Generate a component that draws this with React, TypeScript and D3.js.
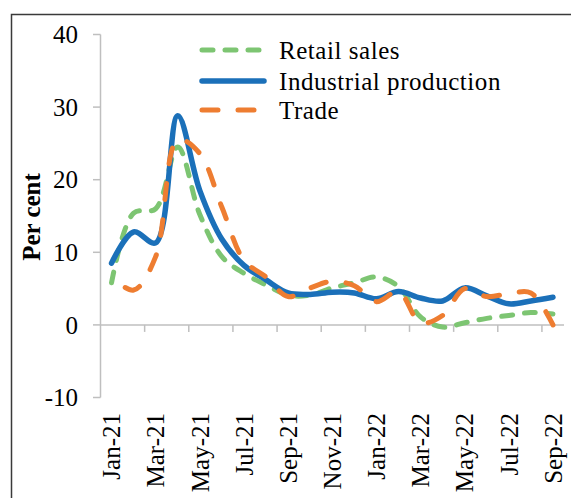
import React, { useRef, useEffect } from 'react';
import * as d3 from 'd3';

// months Jan-21 .. Sep-22
const months = [
  'Jan-21', 'Feb-21', 'Mar-21', 'Apr-21', 'May-21', 'Jun-21', 'Jul-21',
  'Aug-21', 'Sep-21', 'Oct-21', 'Nov-21', 'Dec-21', 'Jan-22', 'Feb-22',
  'Mar-22', 'Apr-22', 'May-22', 'Jun-22', 'Jul-22', 'Aug-22', 'Sep-22',
];

const retailSales = [
  5.8, 15.4, 16.0, 24.5, 15.2, 9.4, 7.1, 5.5, 4.1, 4.1, 5.1, 5.8, 6.6, 5.3,
  1.1, -0.3, 0.3, 0.9, 1.3, 1.7, 1.5,
];
const industrialProduction = [
  8.5, 12.8, 11.3, 28.8, 18.5, 11.8, 8.2, 6.2, 4.4, 4.2, 4.5, 4.4, 3.6, 4.6,
  3.7, 3.3, 5.1, 4.0, 2.9, 3.3, 3.8,
];
const trade = [
  6.6, 4.8, 9.4, 25.5, 23.6, 16.2, 8.9, 6.6, 3.9, 5.1, 6.0, 5.4, 3.2, 4.6,
  0.3, 1.3, 5.0, 3.9, 4.3, 4.4, 0.0,
];

const yTicks = [-10, 0, 10, 20, 30, 40];
const xLabels = ['Jan-21', 'Mar-21', 'May-21', 'Jul-21', 'Sep-21', 'Nov-21', 'Jan-22', 'Mar-22', 'May-22', 'Jul-22', 'Sep-22'];

const seriesNames = ['Retail sales', 'Industrial production', 'Trade'];

const width = 571;
const height = 498;
const font = '"Liberation Serif", "Times New Roman", serif';

const styles = [
  { color: '#7dc572', dash: [11, 12], width: 5 },
  { color: '#1b70b9', dash: null, width: 5.5 },
  { color: '#ee7d31', dash: [16, 20], width: 5 },
];

const App = () => {
  const ref = useRef<SVGSVGElement>(null);

  useEffect(() => {
    const svg = d3.select(ref.current);
    svg.selectAll('*').remove();

    svg.append('rect').attr('width', width).attr('height', height).attr('fill', '#fff');

    // outer frame (only top and left visible)
    svg
      .append('path')
      .attr('d', `M11.5,${height} L11.5,14.5 L${width},14.5`)
      .attr('fill', 'none')
      .attr('stroke', '#3a3a3a')
      .attr('stroke-width', 1.5);

    const x = d3.scaleBand<string>().domain(months).range([100.5, 564]);
    const y = d3.scaleLinear().domain([-10, 40]).range([397.5, 34.5]);
    const cx = (i: number) => (x(months[i]) as number) + x.bandwidth() / 2;

    // y axis
    const yAxis = svg.append('g');
    yAxis
      .append('line')
      .attr('x1', 100.5)
      .attr('x2', 100.5)
      .attr('y1', y(-10))
      .attr('y2', y(40))
      .attr('stroke', '#bfbfbf')
      .attr('stroke-width', 1.5);
    yTicks.forEach((t) => {
      yAxis
        .append('line')
        .attr('x1', 93)
        .attr('x2', 100.5)
        .attr('y1', y(t))
        .attr('y2', y(t))
        .attr('stroke', '#bfbfbf')
        .attr('stroke-width', 1.5);
      yAxis
        .append('text')
        .attr('x', 78)
        .attr('y', y(t))
        .attr('dy', '0.35em')
        .attr('text-anchor', 'end')
        .attr('font-family', font)
        .attr('font-size', 25)
        .attr('fill', '#000')
        .text(t);
    });

    svg
      .append('text')
      .attr('transform', `translate(40, ${217}) rotate(-90)`)
      .attr('text-anchor', 'middle')
      .attr('font-family', font)
      .attr('font-size', 25)
      .attr('font-weight', 'bold')
      .text('Per cent');

    // x axis at zero
    const xAxis = svg.append('g');
    xAxis
      .append('line')
      .attr('x1', 100.5)
      .attr('x2', 564)
      .attr('y1', y(0))
      .attr('y2', y(0))
      .attr('stroke', '#bfbfbf')
      .attr('stroke-width', 1.5);
    months.forEach((m, i) => {
      if (i % 2 === 0 && i > 0) {
        const tx = x(m) as number;
        xAxis
          .append('line')
          .attr('x1', tx)
          .attr('x2', tx)
          .attr('y1', y(0))
          .attr('y2', y(0) + 7)
          .attr('stroke', '#bfbfbf')
          .attr('stroke-width', 1.5);
      }
    });
    xLabels.forEach((lab) => {
      const i = months.indexOf(lab);
      xAxis
        .append('text')
        .attr('transform', `translate(${cx(i)}, 413) rotate(-90)`)
        .attr('dy', '0.35em')
        .attr('text-anchor', 'end')
        .attr('font-family', font)
        .attr('font-size', 25)
        .text(lab);
    });

    // lines
    const line = d3
      .line<number>()
      .x((d, i) => cx(i))
      .y((d) => y(d))
      .curve(d3.curveCatmullRom.alpha(0.5));

    [retailSales, industrialProduction, trade].forEach((s, k) => {
      const st = styles[k];
      const p = svg
        .append('path')
        .datum(s)
        .attr('fill', 'none')
        .attr('stroke', st.color)
        .attr('stroke-width', st.width)
        .attr('stroke-linecap', 'round')
        .attr('d', line);
      if (st.dash) {
        p.attr('stroke-dasharray', st.dash.join(' '));
        // make the trade line finish on a dash, like the original
        if (k === 2) {
          const len = (p.node() as SVGPathElement).getTotalLength();
          const period = st.dash[0] + st.dash[1];
          const off = (((st.dash[0] - len) % period) + period) % period;
          p.attr('stroke-dashoffset', off);
        }
      }
    });

    // legend
    const legendY = [50, 81, 110];
    seriesNames.forEach((name, k) => {
      const st = styles[k];
      svg
        .append('line')
        .attr('x1', 202)
        .attr('x2', 264)
        .attr('y1', legendY[k])
        .attr('y2', legendY[k])
        .attr('stroke', st.color)
        .attr('stroke-width', st.width)
        .attr('stroke-linecap', 'round')
        .attr('stroke-dasharray', st.dash ? st.dash.join(' ') : null);
      svg
        .append('text')
        .attr('x', 279)
        .attr('y', legendY[k])
        .attr('dy', '0.35em')
        .attr('font-family', font)
        .attr('font-size', 25)
        .attr('letter-spacing', 0.55)
        .text(name);
    });
  }, []);

  return (
    <svg
      ref={ref}
      width={width}
      height={height}
      style={{ position: 'absolute', left: 0, top: 0, display: 'block' }}
    ></svg>
  );
};

export default App;
